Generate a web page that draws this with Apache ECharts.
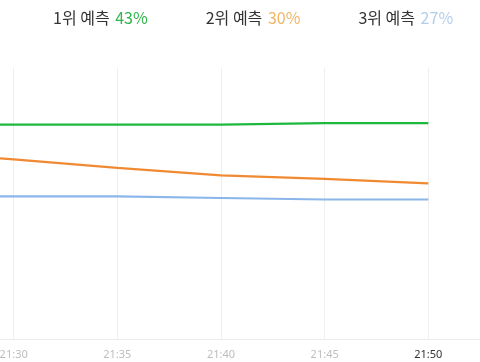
<!DOCTYPE html>
<html><head><meta charset="utf-8">
<script src="https://cdn.jsdelivr.net/npm/echarts@6/dist/echarts.min.js"></script>
<style>html,body{margin:0;padding:0;background:#fff}#c{width:480px;height:362px}</style>
</head><body><div id="c"></div>
<script>
const minutes = [25, 30, 35, 40, 45, 50];
const names = ['1위 예측', '2위 예측', '3위 예측'];
const pcts = ['43%', '30%', '27%'];
const first = [42.7, 42.7, 42.7, 42.7, 43.0, 43.0];
const second = [37.4, 35.8, 34.1, 32.6, 31.9, 31.0];
const third = [28.4, 28.4, 28.4, 28.1, 27.8, 27.8];
const lineColors = ['#1fb83f', '#f08a32', '#8ab6ea'];
const pctColors = ['#2fb64c', '#f2b566', '#b4cdea'];

const chart = echarts.init(document.getElementById('c'), null, {renderer: 'canvas'});
const seriesData = [first, second, third];
const pStyle = function (c) {
  return {fontFamily: 'Noto Sans CJK KR', fontSize: 16, color: c, padding: [0, 0, 0, 2]};
};
chart.setOption({
  animation: false,
  grid: {left: -90, right: -52, top: 68, bottom: 23, containLabel: false, outerBoundsMode: 'none'},
  legend: {
    left: 43, top: 5, icon: 'none', itemWidth: 0, itemGap: 53,
    data: names,
    formatter: function (n) {
      const i = names.indexOf(n);
      return '{n|' + n + '} {p' + i + '|' + pcts[i] + '}';
    },
    textStyle: {
      fontFamily: 'Noto Sans CJK KR', fontSize: 16, color: '#333',
      rich: {
        n: {fontFamily: 'Noto Sans CJK KR', fontSize: 16, color: '#333'},
        p0: pStyle(pctColors[0]),
        p1: pStyle(pctColors[1]),
        p2: pStyle(pctColors[2])
      }
    },
    selectedMode: false
  },
  xAxis: {
    type: 'value', min: 25, max: 55, interval: 5,
    axisLine: {show: true, lineStyle: {color: '#ebebeb', width: 1}},
    axisTick: {show: false},
    splitLine: {show: true, lineStyle: {color: '#efefef', width: 1}},
    axisLabel: {
      margin: 10, fontSize: 11, fontFamily: 'Noto Sans',
      color: '#bdbdbd',
      formatter: function (v) {
        const s = '21:' + (v < 10 ? '0' + v : v);
        return v === 50 ? '{hi|' + s + '}' : s;
      },
      rich: {hi: {color: '#333', fontSize: 11, fontFamily: 'Noto Sans'}}
    }
  },
  yAxis: {
    type: 'value', min: 0, max: 54,
    axisLine: {show: false}, axisTick: {show: false},
    axisLabel: {show: false}, splitLine: {show: false}
  },
  series: seriesData.map(function (d, i) {
    return {
      name: names[i], type: 'line', showSymbol: false, symbol: 'none',
      lineStyle: {width: 2.2, color: lineColors[i]},
      itemStyle: {color: lineColors[i]},
      data: minutes.map(function (m, j) { return [m, d[j]]; })
    };
  })
});
</script></body></html>
